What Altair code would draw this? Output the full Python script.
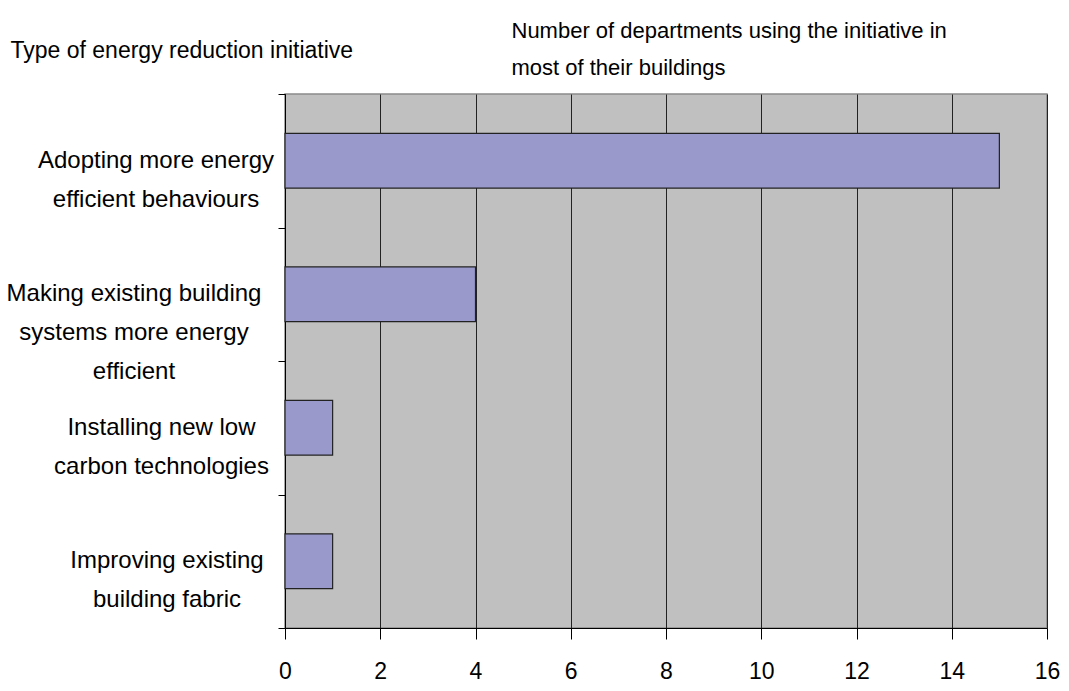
import altair as alt
import pandas as pd

categories = [
    "Adopting more energy|efficient behaviours",
    "Making existing building|systems more energy|efficient",
    "Installing new low|carbon technologies",
    "Improving existing|building fabric",
]
values = [15, 4, 1, 1]
x_ticks = [0, 2, 4, 6, 8, 10, 12, 14, 16]

df = pd.DataFrame({"initiative": categories, "count": values})

FONT = "Liberation Sans"

y_axis = alt.Axis(
    title="Type of energy reduction initiative",
    titleX=-275, titleY=-44, titleAlign="left", titleBaseline="middle",
    titleAngle=0, titleFont=FONT, titleFontSize=23, titleFontWeight="normal",
    titleColor="#000000",
    labels=False,
    tickSize=7, tickColor="#000000", tickBand="extent",
    domainColor="#000000", grid=False,
)

y_enc = alt.Y(
    "initiative:N",
    sort=categories,
    scale=alt.Scale(paddingInner=0, paddingOuter=0),
    axis=y_axis,
)

base = alt.Chart(df)

bars = base.mark_bar(
    height={"band": 0.41}, color="#9999CC", stroke="#222222", strokeWidth=1.2
).encode(
    x=alt.X(
        "count:Q",
        scale=alt.Scale(domain=[0, 16], nice=False),
        axis=alt.Axis(
            values=x_ticks,
            title=["Number of departments using the initiative in", "most of their buildings"],
            titleX=226, titleY=-608, titleAlign="left", titleBaseline="top",
            titleAngle=0, titleFont=FONT, titleFontSize=22, titleFontWeight="normal",
            titleLineHeight=37, titleColor="#000000",
            labelFont=FONT, labelFontSize=23, labelColor="#000000", labelPadding=21,
            labelFlush=False,
            tickSize=11, tickColor="#000000", domainColor="#000000",
            grid=True, gridColor="#222222", gridWidth=1,
        ),
    ),
    y=y_enc,
)

labels = base.transform_calculate(
    lines="split(datum.initiative, '|')",
    lx="-19 - 5.5*max(length(split(datum.initiative,'|')[0]), length(split(datum.initiative,'|')[1]))",
).mark_text(
    align="center", baseline="middle", font=FONT, fontSize=24,
    lineHeight=39, color="#000000",
).encode(
    x=alt.X("lx:Q", scale=None, axis=None),
    y=y_enc,
    text=alt.Text("lines:N"),
)

chart = alt.layer(bars, labels).resolve_scale(x="independent").properties(
    width=762,
    height=534,
    padding={"left": 277, "top": 86, "right": 14, "bottom": 56},
    autosize=alt.AutoSizeParams(type="none"),
).configure_view(
    fill="#C0C0C0", stroke="#8A8A8A", strokeWidth=1.5
)

chart.save("out.html", embed_options={"renderer": "svg", "actions": False})
